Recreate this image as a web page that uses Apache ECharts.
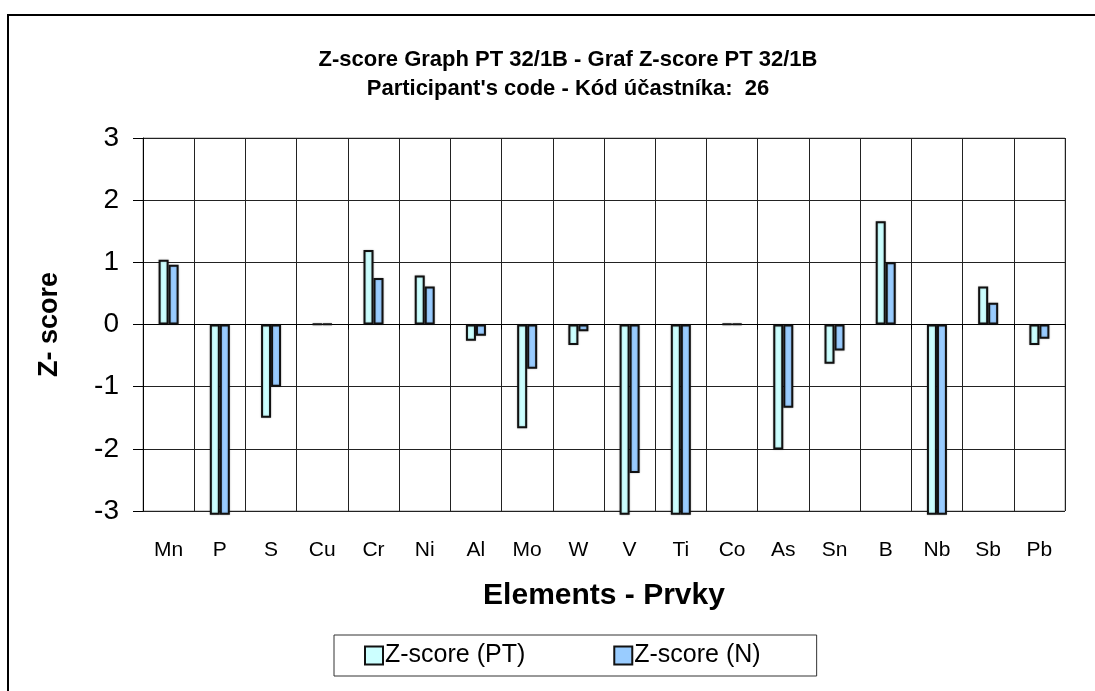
<!DOCTYPE html>
<html>
<head>
<meta charset="utf-8">
<script src="https://cdn.jsdelivr.net/npm/echarts@6/dist/echarts.min.js"></script>
<style>
  html, body { margin: 0; padding: 0; background: #fff; }
  #main { width: 1095px; height: 691px; }
</style>
</head>
<body>
<div id="main"></div>
<script>
// elements on the x axis
var elements = ["Mn", "P", "S", "Cu", "Cr", "Ni", "Al", "Mo", "W", "V", "Ti", "Co", "As", "Sn", "B", "Nb", "Sb", "Pb"]
// Z-score (PT) - bars that run off the bottom are read as just under -3
var zPT = [1.04, -3.06, -1.5, 0.01, 1.2, 0.79, -0.26, -1.67, -0.33, -3.06, -3.06, 0.01, -2.01, -0.63, 1.66, -3.06, 0.61, -0.33]
// Z-score (N)
var zN = [0.96, -3.06, -1.0, 0.01, 0.75, 0.61, -0.18, -0.71, -0.11, -2.39, -3.06, 0.01, -1.34, -0.42, 1.0, -3.06, 0.35, -0.23]
var seriesNames = ["Z-score (PT)", "Z-score (N)"]
var yTicks = { min: -3, max: 3, interval: 1 }

var chartDom = document.getElementById("main")
var myChart = echarts.init(chartDom)
var option
var font = "Arial, 'Liberation Sans', sans-serif"

var barStyle = function (color) {
  return {
    color: color,
    borderColor: "#111",
    borderWidth: 2,
    shadowColor: "rgba(0,0,0,0.25)",
    shadowBlur: 2
  }
}

option = {
  animation: false,
  backgroundColor: "#fff",
  textStyle: { fontFamily: font, color: "#000" },
  graphic: [
    {
      type: "rect",
      shape: { x: 8, y: 15, width: 1100, height: 700 },
      style: { fill: "none", stroke: "#000", lineWidth: 2 },
      silent: true
    }
  ],
  title: {
    text: "Z-score Graph PT 32/1B - Graf Z-score PT 32/1B\nParticipant's code - Kód účastníka:  26",
    left: 563,
    top: 40,
    textAlign: "center",
    textStyle: {
      fontFamily: font,
      fontWeight: "bold",
      fontSize: 22,
      lineHeight: 29,
      color: "#000"
    }
  },
  legend: {
    data: seriesNames,
    left: 334,
    top: 635,
    padding: [8, 56, 8, 30],
    itemGap: 88,
    itemWidth: 18,
    itemHeight: 18,
    icon: "rect",
    borderColor: "#333",
    borderWidth: 1,
    textStyle: { fontFamily: font, fontSize: 25, color: "#000", padding: [0, 0, 0, -3] }
  },
  grid: {
    left: 143,
    top: 138,
    right: 30,
    bottom: 180,
    show: true,
    borderColor: "#999",
    borderWidth: 1
  },
  xAxis: [
    {
      type: "category",
      data: elements,
      position: "bottom",
      name: "Elements - Prvky",
      nameLocation: "middle",
      nameGap: 70,
      nameTextStyle: { fontFamily: font, fontSize: 30, fontWeight: "bold", color: "#000" },
      axisLine: { show: false, onZero: false },
      axisTick: { show: false },
      axisLabel: { fontFamily: font, fontSize: 21, color: "#000", margin: 29 },
      splitLine: { show: true, lineStyle: { color: "#222", width: 1 } }
    },
    {
      type: "category",
      data: elements,
      position: "top",
      axisLine: { show: true, onZero: true, lineStyle: { color: "#000", width: 1 } },
      axisTick: { show: true, inside: true, length: 5, lineStyle: { color: "#000" } },
      axisLabel: { show: false },
      splitLine: { show: false }
    }
  ],
  yAxis: {
    type: "value",
    min: yTicks.min,
    max: yTicks.max,
    interval: yTicks.interval,
    name: "Z- score",
    nameLocation: "middle",
    nameGap: 80,
    nameTextStyle: { fontFamily: font, fontSize: 27, fontWeight: "bold", color: "#000" },
    axisLine: { show: true, lineStyle: { color: "#000", width: 1 } },
    axisTick: { show: true, length: 10, lineStyle: { color: "#000" } },
    axisLabel: { fontFamily: font, fontSize: 28, color: "#000", margin: 24 },
    splitLine: { show: true, lineStyle: { color: "#222", width: 1 } }
  },
  series: [
    {
      name: seriesNames[0],
      type: "bar",
      xAxisIndex: 0,
      barWidth: 10,
      barGap: "0%",
      clip: false,
      itemStyle: barStyle("#CCFFFF"),
      data: zPT
    },
    {
      name: seriesNames[1],
      type: "bar",
      xAxisIndex: 0,
      barWidth: 10,
      barGap: "0%",
      clip: false,
      itemStyle: barStyle("#99CCFF"),
      data: zN
    }
  ]
}

option && myChart.setOption(option)
</script>
</body>
</html>
